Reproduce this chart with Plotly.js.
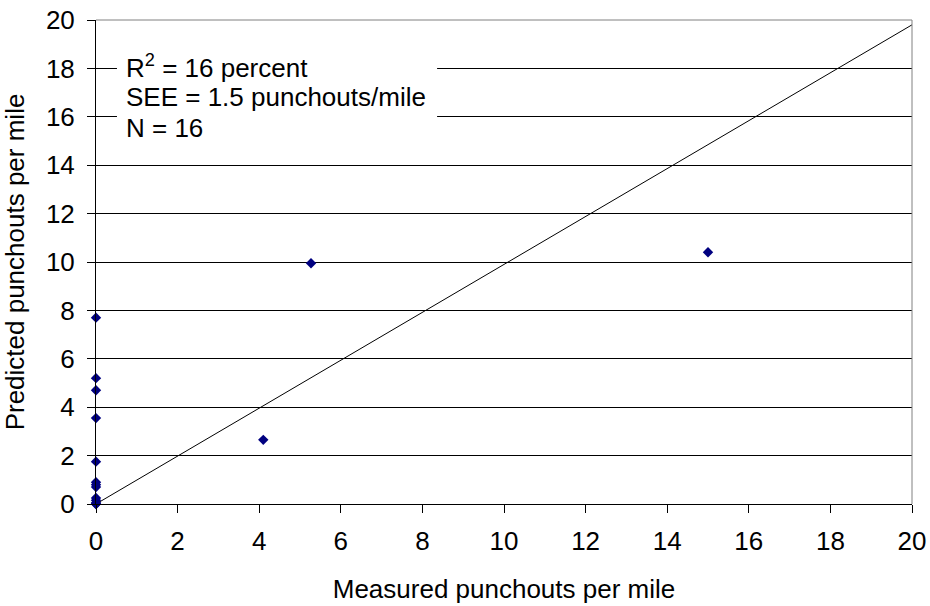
<!DOCTYPE html>
<html>
<head>
<meta charset="utf-8">
<script src="https://cdn.plot.ly/plotly-3.0.1.min.js"></script>
<style>html,body{margin:0;padding:0;background:#fff;}#chart{width:930px;height:606px;}</style>
</head>
<body>
<div id="chart"></div>
<script>
// Observed data
const measured = [0, 0, 0, 0, 0, 0, 0, 0, 0, 0, 0, 0, 0, 4.1, 5.27, 15.0];
const predicted = [7.7, 5.2, 4.7, 3.55, 1.75, 0.9, 0.8, 0.7, 0.25, 0.15, 0.05, 0, 0, 2.65, 9.95, 10.4];
// Line of equality
const lineX = [0, 20];
const lineY = [0, 19.8];
const xTicks = [0, 2, 4, 6, 8, 10, 12, 14, 16, 18, 20];
const yTicks = [0, 2, 4, 6, 8, 10, 12, 14, 16, 18, 20];
const statsLines = ["R<sup>2</sup> = 16 percent", "SEE = 1.5 punchouts/mile", "N = 16"];
const statsY = [18.06, 16.82, 15.54];

const FONT = "Liberation Sans, Arial, sans-serif";
const FS = 26;

const traces = [
  {x: lineX, y: lineY, mode: "lines", line: {color: "#000", width: 1}, hoverinfo: "skip", showlegend: false, cliponaxis: false},
  {x: measured, y: predicted, mode: "markers", type: "scatter",
   marker: {symbol: "diamond", size: 8, color: "#000080"}, cliponaxis: false, showlegend: false}
];

const annotations = statsLines.map((t, i) => ({
  xref: "x", yref: "y", x: 0.68, y: statsY[i],
  xanchor: "left", yanchor: "middle", showarrow: false, align: "left",
  text: t, font: {family: FONT, size: FS, color: "#000"}
}));

const layout = {
  width: 930, height: 606,
  margin: {l: 96, r: 18, t: 20, b: 102},
  paper_bgcolor: "#fff", plot_bgcolor: "#fff",
  font: {family: FONT, size: FS, color: "#000"},
  xaxis: {
    range: [0, 20], tickvals: xTicks, ticktext: xTicks.map(String),
    showgrid: false, zeroline: false, showline: true, linecolor: "#000", linewidth: 1,
    ticks: "outside", ticklen: 8, tickcolor: "#000", ticklabelstandoff: 6,
    tickfont: {family: FONT, size: FS},
    title: {text: "Measured punchouts per mile", font: {family: FONT, size: FS}, standoff: 24}
  },
  yaxis: {
    range: [0, 20], tickvals: yTicks, ticktext: yTicks.map(String),
    showgrid: true, gridcolor: "#000", gridwidth: 1,
    zeroline: false, showline: true, linecolor: "#000", linewidth: 1,
    ticks: "outside", ticklen: 8, tickcolor: "#000", ticklabelstandoff: 7,
    tickfont: {family: FONT, size: FS},
    title: {text: "Predicted punchouts per mile", font: {family: FONT, size: FS}, standoff: 13}
  },
  shapes: [
    {type: "rect", xref: "paper", yref: "paper", x0: 0.0257, x1: 0.418, y0: 0.731, y1: 0.969,
     fillcolor: "#fff", line: {width: 0}, layer: "above"},
    {type: "line", xref: "paper", yref: "paper", x0: 0, x1: 1, y0: 1, y1: 1, line: {color: "#808080", width: 1}},
    {type: "line", xref: "paper", yref: "paper", x0: 1, x1: 1, y0: 0, y1: 1, line: {color: "#808080", width: 1}}
  ],
  annotations: annotations
};

Plotly.newPlot("chart", traces, layout, {displayModeBar: false, staticPlot: true});
</script>
</body>
</html>
